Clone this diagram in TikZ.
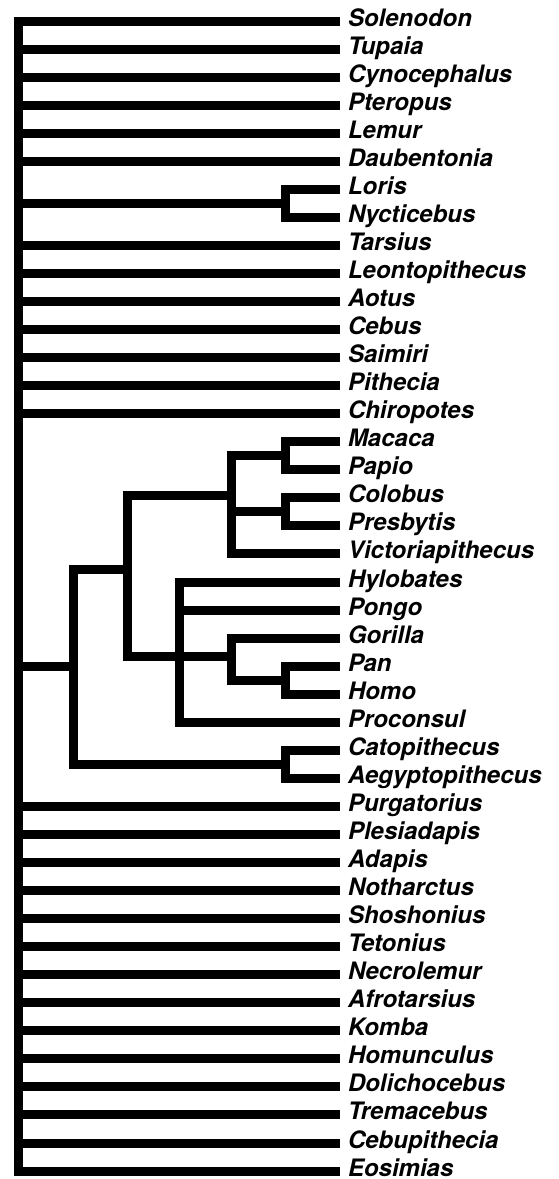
\documentclass[tikz,border=0pt]{standalone}
\usepackage{fontspec}
\setmainfont{TeX Gyre Heros}
\usepackage{tikz}
\usetikzlibrary{positioning}

\begin{document}
\begin{tikzpicture}[x=1pt, y=-1pt, node distance=0pt, branch/.style={line width=9pt, line join=miter}, leaf/.style={font=\fontsize{24}{28}\selectfont\bfseries\itshape, text width=205pt, align=left, minimum height=28.05pt, text height=16pt, text depth=6pt, inner sep=0pt, outer xsep=8pt, outer ysep=0pt}]
\useasboundingbox (0,0) rectangle (558,1179);
% taxa
\node[leaf, anchor=west] (sol) at (340,21) {Solenodon};
\node[leaf, below=of sol] (tup) {Tupaia};
\node[leaf, below=of tup] (cyn) {Cynocephalus};
\node[leaf, below=of cyn] (pte) {Pteropus};
\node[leaf, below=of pte] (lem) {Lemur};
\node[leaf, below=of lem] (dau) {Daubentonia};
\node[leaf, below=of dau] (lor) {Loris};
\node[leaf, below=of lor] (nyc) {Nycticebus};
\node[leaf, below=of nyc] (tar) {Tarsius};
\node[leaf, below=of tar] (leo) {Leontopithecus};
\node[leaf, below=of leo] (aot) {Aotus};
\node[leaf, below=of aot] (ceb) {Cebus};
\node[leaf, below=of ceb] (sai) {Saimiri};
\node[leaf, below=of sai] (pit) {Pithecia};
\node[leaf, below=of pit] (chi) {Chiropotes};
\node[leaf, below=of chi] (mac) {Macaca};
\node[leaf, below=of mac] (pap) {Papio};
\node[leaf, below=of pap] (col) {Colobus};
\node[leaf, below=of col] (pre) {Presbytis};
\node[leaf, below=of pre] (vic) {Victoriapithecus};
\node[leaf, below=of vic] (hyl) {Hylobates};
\node[leaf, below=of hyl] (pon) {Pongo};
\node[leaf, below=of pon] (gor) {Gorilla};
\node[leaf, below=of gor] (pan) {Pan};
\node[leaf, below=of pan] (hmo) {Homo};
\node[leaf, below=of hmo] (pro) {Proconsul};
\node[leaf, below=of pro] (cto) {Catopithecus};
\node[leaf, below=of cto] (aeg) {Aegyptopithecus};
\node[leaf, below=of aeg] (pur) {Purgatorius};
\node[leaf, below=of pur] (ple) {Plesiadapis};
\node[leaf, below=of ple] (ada) {Adapis};
\node[leaf, below=of ada] (nth) {Notharctus};
\node[leaf, below=of nth] (sho) {Shoshonius};
\node[leaf, below=of sho] (tet) {Tetonius};
\node[leaf, below=of tet] (nec) {Necrolemur};
\node[leaf, below=of nec] (afr) {Afrotarsius};
\node[leaf, below=of afr] (kom) {Komba};
\node[leaf, below=of kom] (hmu) {Homunculus};
\node[leaf, below=of hmu] (dol) {Dolichocebus};
\node[leaf, below=of dol] (tre) {Tremacebus};
\node[leaf, below=of tre] (cbp) {Cebupithecia};
\node[leaf, below=of cbp] (eos) {Eosimias};
% branch points
\coordinate (root) at (18,600);
\coordinate (lorisid) at (285,203.3);
\coordinate (papion) at (285,455.8);
\coordinate (colobin) at (285,511.9);
\coordinate (cercop) at (231,495);
\coordinate (panhomo) at (285,680.2);
\coordinate (hominin) at (231,656);
\coordinate (hominoid) at (179,656);
\coordinate (catarrh) at (127,569);
\coordinate (proplio) at (285,764.3);
\coordinate (anthrop) at (73,666);
% branches
\draw[branch] (sol.west) -| (root) |- (eos.west);
\draw[branch] (root |- tup.west) -- (tup.west); \draw[branch] (root |- cyn.west) -- (cyn.west); \draw[branch] (root |- pte.west) -- (pte.west); \draw[branch] (root |- lem.west) -- (lem.west); \draw[branch] (root |- dau.west) -- (dau.west);
\draw[branch] (root |- tar.west) -- (tar.west); \draw[branch] (root |- leo.west) -- (leo.west); \draw[branch] (root |- aot.west) -- (aot.west); \draw[branch] (root |- ceb.west) -- (ceb.west); \draw[branch] (root |- sai.west) -- (sai.west); \draw[branch] (root |- pit.west) -- (pit.west); \draw[branch] (root |- chi.west) -- (chi.west);
\draw[branch] (root |- pur.west) -- (pur.west); \draw[branch] (root |- ple.west) -- (ple.west); \draw[branch] (root |- ada.west) -- (ada.west); \draw[branch] (root |- nth.west) -- (nth.west); \draw[branch] (root |- sho.west) -- (sho.west); \draw[branch] (root |- tet.west) -- (tet.west); \draw[branch] (root |- nec.west) -- (nec.west);
\draw[branch] (root |- afr.west) -- (afr.west); \draw[branch] (root |- kom.west) -- (kom.west); \draw[branch] (root |- hmu.west) -- (hmu.west); \draw[branch] (root |- dol.west) -- (dol.west); \draw[branch] (root |- tre.west) -- (tre.west); \draw[branch] (root |- cbp.west) -- (cbp.west);
\draw[branch] (lor.west) -| (lorisid) |- (nyc.west); \draw[branch] (root |- lorisid) -- (lorisid);
\draw[branch] (mac.west) -| (papion) |- (pap.west); \draw[branch] (col.west) -| (colobin) |- (pre.west);
\draw[branch] (papion) -| (cercop) |- (vic.west); \draw[branch] (cercop |- colobin) -- (colobin);
\draw[branch] (pan.west) -| (panhomo) |- (hmo.west); \draw[branch] (gor.west) -| (hominin) |- (panhomo);
\draw[branch] (hyl.west) -| (hominoid) |- (pro.west); \draw[branch] (hominoid |- pon.west) -- (pon.west);
\draw[branch] (cercop) -| (catarrh) |- (hominin);
\draw[branch] (cto.west) -| (proplio) |- (aeg.west);
\draw[branch] (catarrh) -| (anthrop) |- (proplio); \draw[branch] (root |- anthrop) -- (anthrop);
\end{tikzpicture}
\end{document}
